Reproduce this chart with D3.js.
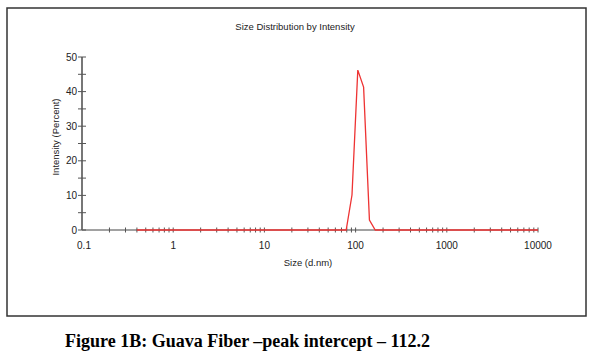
<!DOCTYPE html>
<html>
<head>
<meta charset="utf-8">
<script src="https://cdn.jsdelivr.net/npm/d3@7/dist/d3.min.js"></script>
<style>
  html, body { margin: 0; padding: 0; background: #fff; }
  svg { display: block; }
</style>
</head>
<body>
<svg id="chart" width="594" height="357"></svg>
<script>
// ---- data ----
const sizes = [0.4, 0.4632, 0.5365, 0.6213, 0.7195, 0.8332, 0.9649, 1.117, 1.294, 1.499,
  1.736, 2.010, 2.328, 2.696, 3.122, 3.615, 4.187, 4.849, 5.615, 6.503,
  7.531, 8.721, 10.10, 11.70, 13.54, 15.69, 18.17, 21.04, 24.36, 28.21,
  32.67, 37.84, 43.82, 50.75, 58.77, 68.06, 78.82, 91.28, 105.7, 122.4,
  141.8, 164.2, 190.1, 220.2, 255.0, 295.3, 342.0, 396.1, 458.7, 531.2,
  615.1, 712.4, 825.0, 955.4, 1106, 1281, 1484, 1718, 1990, 2305,
  2669, 3091, 3580, 4145, 4801, 5560, 6439, 7456, 8635, 10000];
const peakSizes = [91.28, 105.7, 122.4, 141.8];
const peakValues = [10.1, 46.2, 41.3, 2.9];
const xTickLabels = ["0.1", "1", "10", "100", "1000", "10000"];
const xTickValues = [0.1, 1, 10, 100, 1000, 10000];
const yTickLabels = ["0", "10", "20", "30", "40", "50"];
const yTickValues = [0, 10, 20, 30, 40, 50];
const chartTitle = "Size Distribution by Intensity";
const xTitle = "Size (d.nm)";
const yTitle = "Intensity (Percent)";
const caption = "Figure 1B: Guava Fiber \u2013peak intercept \u2013 112.2";

const intensity = sizes.map(s => {
  const i = peakSizes.indexOf(s);
  return i >= 0 ? peakValues[i] : 0;
});

// ---- layout ----
const svg = d3.select("#chart");
const x = d3.scaleLog().domain([0.1, 10000]).range([82, 538]);
const y = d3.scaleLinear().domain([0, 50]).range([230, 57]);
const font = "Liberation Sans, Arial, sans-serif";

// outer frame
svg.append("rect")
  .attr("x", 7).attr("y", 8).attr("width", 579).attr("height", 308)
  .attr("fill", "none").attr("stroke", "#333").attr("stroke-width", 1.5);

// title
svg.append("text")
  .attr("x", 295).attr("y", 30)
  .attr("text-anchor", "middle")
  .attr("font-family", font).attr("font-size", 9.5)
  .attr("fill", "#222")
  .text(chartTitle);

// x-axis line
svg.append("line")
  .attr("x1", x(0.1)).attr("x2", x(10000))
  .attr("y1", y(0)).attr("y2", y(0))
  .attr("stroke", "#444").attr("stroke-width", 1);

// x ticks (minor 2..9 per decade + majors) crossing the axis
const xTickAll = [];
for (let d = -1; d < 4; d++) {
  for (let m = 1; m <= 9; m++) {
    const v = m * Math.pow(10, d);
    if (v > 0.1) xTickAll.push(v);
  }
}
xTickAll.push(10000);
svg.append("g").selectAll("line").data(xTickAll).join("line")
  .attr("x1", d => x(d)).attr("x2", d => x(d))
  .attr("y1", y(0) - 2.5).attr("y2", y(0) + 2.5)
  .attr("stroke", "#555").attr("stroke-width", 1);

// x tick labels
svg.append("g").selectAll("text").data(xTickValues).join("text")
  .attr("x", d => x(d) + (d === 0.1 ? 2 : 0)).attr("y", 249)
  .attr("text-anchor", "middle")
  .attr("font-family", font).attr("font-size", 10)
  .attr("fill", "#222")
  .text((d, i) => xTickLabels[i]);

// x title
svg.append("text")
  .attr("x", 308).attr("y", 266)
  .attr("text-anchor", "middle")
  .attr("font-family", font).attr("font-size", 9.5)
  .attr("fill", "#222")
  .text(xTitle);

// y-axis line
svg.append("line")
  .attr("x1", x(0.1)).attr("x2", x(0.1))
  .attr("y1", y(0)).attr("y2", y(50))
  .attr("stroke", "#777").attr("stroke-width", 2);

// y ticks every 5
const yTickAll = d3.range(0, 51, 5);
svg.append("g").selectAll("line").data(yTickAll).join("line")
  .attr("x1", x(0.1) - 4).attr("x2", x(0.1) + 4)
  .attr("y1", d => y(d)).attr("y2", d => y(d))
  .attr("stroke", "#555").attr("stroke-width", 1);

// y tick labels
svg.append("g").selectAll("text").data(yTickValues).join("text")
  .attr("x", 77).attr("y", d => y(d) + 3.5)
  .attr("text-anchor", "end")
  .attr("font-family", font).attr("font-size", 10)
  .attr("fill", "#222")
  .text((d, i) => yTickLabels[i]);

// y title
svg.append("text")
  .attr("transform", "translate(59,137) rotate(-90)")
  .attr("text-anchor", "middle")
  .attr("font-family", font).attr("font-size", 9.5)
  .attr("fill", "#222")
  .text(yTitle);

// data line
const line = d3.line().x((d, i) => x(sizes[i])).y(d => y(d));
svg.append("path")
  .datum(intensity)
  .attr("d", line)
  .attr("fill", "none")
  .attr("stroke", "#ee3333").attr("stroke-width", 1.3)
  .attr("stroke-linejoin", "miter");

// caption
svg.append("text")
  .attr("x", 65).attr("y", 347)
  .attr("font-family", "Liberation Serif, Times New Roman, serif")
  .attr("font-weight", "bold").attr("font-size", 18)
  .attr("fill", "#000")
  .text(caption);
</script>
</body>
</html>
